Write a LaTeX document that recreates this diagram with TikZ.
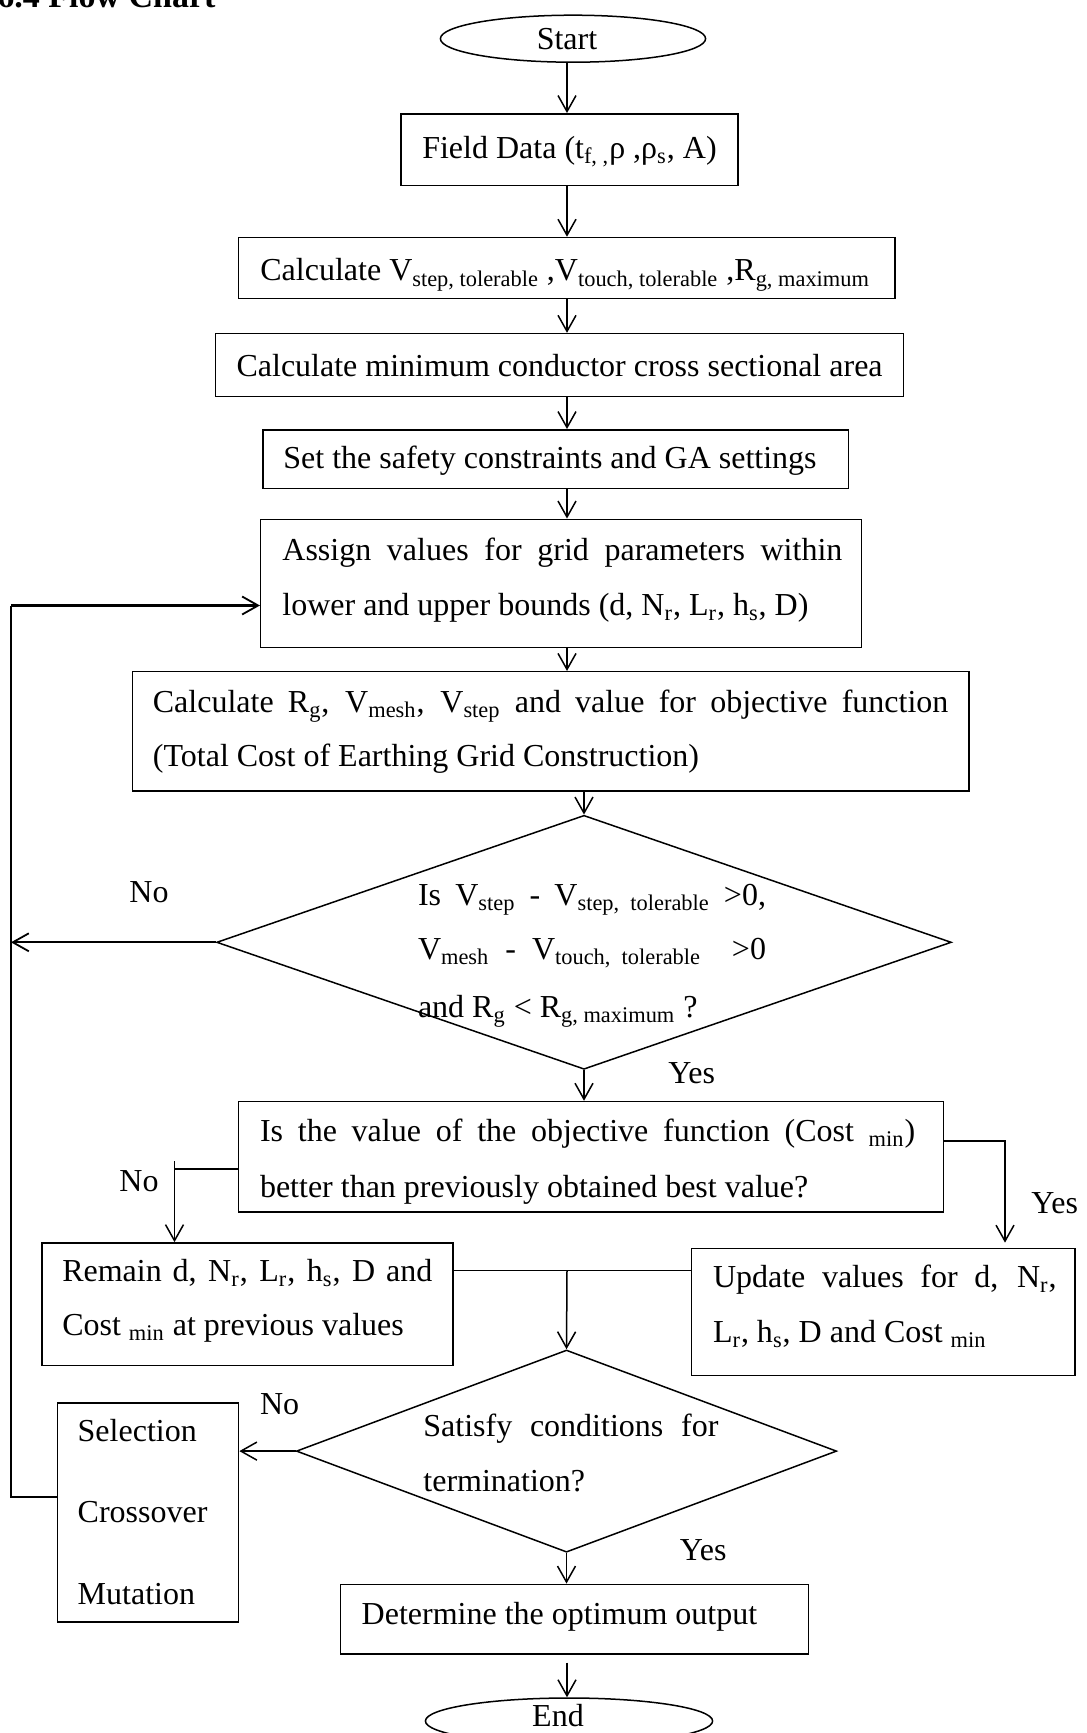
\documentclass[tikz,border=0pt]{standalone}
\usepackage{fontspec}
\setmainfont{Liberation Serif}
\usetikzlibrary{arrows.meta,shapes.geometric}
\newcommand\fs{\fontsize{16pt}{19pt}\selectfont}
\tikzset{
  box/.style={draw, line width=0.75pt, rectangle, inner sep=0pt},
  term/.style={draw, line width=0.75pt, ellipse, inner sep=0pt, font=\fs},
  dec/.style={draw, line width=0.75pt, diamond, inner sep=0pt},
  txt/.style={anchor=base west, inner sep=0pt, font=\fs},
  flow/.style={line width=0.75pt, -{Straight Barb[length=8pt,width=9pt,line width=0.75pt]}},
  loopline/.style={line width=1.1pt},
  loopflow/.style={line width=1.1pt, -{Straight Barb[length=8pt,width=9pt,line width=0.9pt]}},
}
\begin{document}
\begin{tikzpicture}[x=0.5pt,y=-0.5pt]
\useasboundingbox (0,0) rectangle (1086,1733);
\node[anchor=base west, inner sep=0pt, font=\fontsize{17pt}{20pt}\selectfont\bfseries] (title) at (-3,8) {6.4 Flow Chart};

\coordinate (axis) at (567,0);

% terminals
\node[term, minimum width=132.6pt, minimum height=23.5pt] (start) at (573,38.7) {};
\node[font=\fs, inner sep=0pt] (starttxt) at (567,38.7) {Start};
\node[term, minimum width=143.6pt, minimum height=23pt] (end) at (569,1721) {};
\node[font=\fs, inner sep=0pt] (endtxt) at (558,1716) {End};

% boxes
\node[box, minimum width=168.5pt, minimum height=35.9pt] (field) at (569.5,149.7) {};
\node[font=\fs, inner sep=0pt] (fieldtxt) at (569.5,151.5)
  {Field Data (t\textsubscript{f, ,}ρ ,ρ\textsubscript{s}, A)};
\node[box, minimum width=328.15pt, minimum height=30.4pt] (calcv) at (566.75,267.9) {};
\node[txt] (calcvtxt) at (260,281) {Calculate V\textsubscript{step, tolerable} ,V\textsubscript{touch, tolerable} ,R\textsubscript{g, maximum}};
\node[box, minimum width=344.15pt, minimum height=31.5pt, font=\fs] (calcmin) at (559.55,365.1)
  {Calculate minimum conductor cross sectional area};
\node[box, minimum width=292.8pt, minimum height=29.25pt] (setc) at (555.7,459.05) {};
\node[font=\fs, inner sep=0pt] (settxt) at (550,460.5) {Set the safety constraints and GA settings};

\node[box, minimum width=300.5pt, minimum height=64.05pt] (assign) at (561.2,583.35) {};
\node[txt] (assign1) at (282,560) {\makebox[280pt][s]{Assign values for grid parameters within}};
\node[txt] (assign2) at (282,615.5) {lower and upper bounds (d, N\textsubscript{r}, L\textsubscript{r}, h\textsubscript{s}, D)};

\node[box, minimum width=418.15pt, minimum height=59.65pt] (calcrg) at (550.75,731.35) {};
\node[txt] (calcrg1) at (152.5,712) {\makebox[397.75pt][s]{Calculate R\textsubscript{g}, V\textsubscript{mesh}, V\textsubscript{step} and value for objective function}};
\node[txt] (calcrg2) at (152.5,766) {(Total Cost of Earthing Grid Construction)};

% decision 1
\node[dec, minimum width=367.35pt, minimum height=127pt] (d1) at (584,942.3) {};
\node[txt] (d1a) at (417.6,905) {\makebox[174pt][s]{Is V\textsubscript{step} - V\textsubscript{step,\ \ tolerable} >0,}};
\node[txt] (d1b) at (417.6,959) {\makebox[174pt][s]{V\textsubscript{mesh}\ \ -\ \ V\textsubscript{touch,\ \ tolerable}\hfill>0}};
\node[txt] (d1c) at (417.6,1017) {and R\textsubscript{g} < R\textsubscript{g, maximum} ?};
\node[txt] (no1) at (129,902) {No};
\node[txt] (yes1) at (668,1083) {Yes};

% decision box 2
\node[box, minimum width=352.45pt, minimum height=55.25pt] (isbox) at (591.05,1156.75) {};
\node[txt] (is1) at (259.6,1141.5) {\makebox[327.6pt][s]{Is the value of the objective function (Cost \textsubscript{min})}};
\node[txt] (is2) at (259.6,1197) {better than previously obtained best value?};
\node[txt] (no2) at (119,1191) {No};
\node[txt] (yes2) at (1031,1213) {Yes};

\node[box, minimum width=205.5pt, minimum height=61.3pt] (remain) at (247.5,1304.2) {};
\node[txt] (remain1) at (61.9,1281) {\makebox[185pt][s]{Remain d, N\textsubscript{r}, L\textsubscript{r}, h\textsubscript{s}, D and}};
\node[txt] (remain2) at (61.9,1335) {Cost \textsubscript{min} at previous values};

\node[box, minimum width=191.7pt, minimum height=63.55pt] (update) at (883.3,1311.95) {};
\node[txt] (update1) at (712.6,1287) {\makebox[171.8pt][s]{Update values for d, N\textsubscript{r},}};
\node[txt] (update2) at (712.6,1342.5) {L\textsubscript{r}, h\textsubscript{s}, D and Cost \textsubscript{min}};

% decision 3
\node[dec, minimum width=270.15pt, minimum height=101.1pt] (d2) at (566.5,1451.1) {};
\node[txt] (d2a) at (423,1436.5) {\makebox[147.5pt][s]{Satisfy conditions for}};
\node[txt] (d2b) at (423,1491.5) {termination?};
\node[txt] (no3) at (259.6,1414) {No};
\node[txt] (yes3) at (679.5,1560) {Yes};

\node[box, minimum width=90.6pt, minimum height=109.4pt] (sel) at (148,1512.4) {};
\node[txt] (sel1) at (77.3,1441) {Selection};
\node[txt] (sel2) at (77.3,1522.6) {Crossover};
\node[txt] (sel3) at (77.3,1604) {Mutation};

\node[box, minimum width=234.2pt, minimum height=34.8pt] (det) at (574.5,1619.1) {};
\node[txt] (dettxt) at (361.3,1624) {Determine the optimum output};

% main connectors
\draw[flow] (start.south -| axis) -- (field.north -| axis);
\draw[flow] (field.south -| axis) -- (calcv.north -| axis);
\draw[flow] (calcv.south -| axis) -- (calcmin.north -| axis);
\draw[flow] (calcmin.south -| axis) -- (setc.north -| axis);
\draw[flow] (setc.south -| axis) -- (assign.north -| axis);
\draw[flow] (assign.south -| axis) -- (calcrg.north -| axis);
\draw[flow] (calcrg.south -| d1.north) -- (d1.north);
\draw[flow] (d1.south) -- (d1.south |- isbox.north);

% loop back
\coordinate (loopT) at (11,605.5);
\coordinate (loopM) at (11,942.3);
\coordinate (loopB) at (11,1497);
\draw[loopflow] (d1.west) -- (loopM);
\draw[loopline] (sel.west |- loopB) -- (loopB) -- (loopT);
\draw[loopflow] (loopT) -- (assign.west |- loopT);

% no / yes branches of box
\coordinate (noTurn) at (174.5,1169);
\coordinate (noTick) at (174.5,1161);
\draw[line width=0.75pt] (isbox.west |- noTurn) -- (noTurn);
\draw[flow] (noTick) -- (noTick |- remain.north);
\coordinate (yesTurn) at (1005,1141);
\draw[flow] (isbox.east |- yesTurn) -- (yesTurn) -- ([yshift=2.5pt]yesTurn |- update.north);

% join
\coordinate (join) at (567,1270.5);
\draw[line width=0.75pt] (remain.east |- join) -- (update.west |- join);
\draw[flow] (join) -- (d2.north);

\draw[flow] (d2.west) -- (sel.east |- d2.west);
\draw[flow] (d2.south) -- (d2.south |- det.north);
\coordinate (endArrow) at (567,1662.7);
\draw[flow] (endArrow) -- (endArrow |- end.north);
\end{tikzpicture}
\end{document}
